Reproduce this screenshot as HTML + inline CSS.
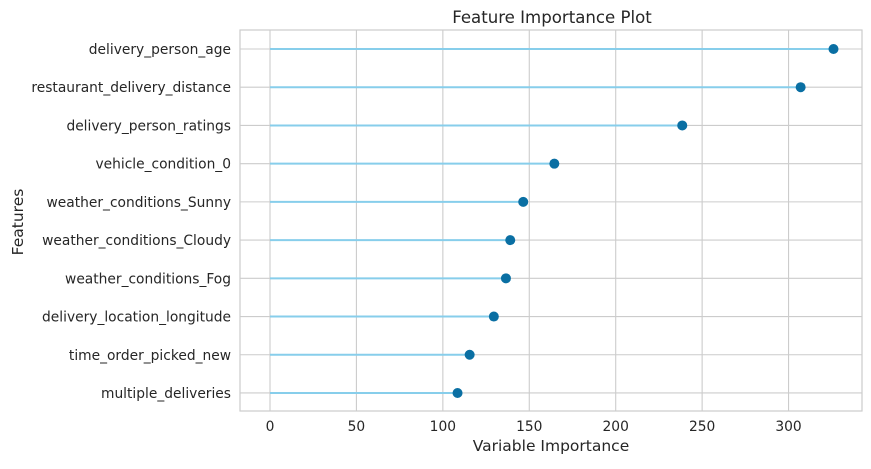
<!DOCTYPE html>
<html><head><meta charset="utf-8"><style>
body{margin:0;background:#fff;font-family:"Liberation Sans","DejaVu Sans",sans-serif;}
svg text{font-family:"DejaVu Sans","Liberation Sans",sans-serif;fill:#262626;}
</style></head><body>
<svg id="chart" width="871" height="464">
<rect x="240" y="30" width="622" height="381" fill="#fff" stroke="#cccccc" stroke-width="1.2"/>
<g id="grid"></g><g id="marks"></g><g id="labels"></g>
<text x="552" y="23" text-anchor="middle" font-size="16.6">Feature Importance Plot</text>
<text x="551" y="451" text-anchor="middle" font-size="15.5">Variable Importance</text>
<text x="23" y="222" text-anchor="middle" font-size="15.5" transform="rotate(-90 23 222)">Features</text>
</svg>
<script>
const features=["delivery_person_age","restaurant_delivery_distance","delivery_person_ratings","vehicle_condition_0","weather_conditions_Sunny","weather_conditions_Cloudy","weather_conditions_Fog","delivery_location_longitude","time_order_picked_new","multiple_deliveries"];
const importance=[326,307,238.5,164.5,146.5,139,136.5,129.5,115.5,108.5];
const xTicks=[0,50,100,150,200,250,300];
const NS="http://www.w3.org/2000/svg";
function sx(v){return 270+v*1.7285;}
function sy(i){return 49+i*38.22;}
function mk(tag,attrs,parent){const e=document.createElementNS(NS,tag);for(const k in attrs)e.setAttribute(k,attrs[k]);document.getElementById(parent).appendChild(e);return e;}
xTicks.forEach(t=>{
  const l=mk('line',{x1:sx(t),x2:sx(t),y1:30,y2:411,stroke:'#cccccc','stroke-width':1.1},'grid');
  
  
  const tx=mk('text',{x:sx(t),y:431,'text-anchor':'middle','font-size':13.8},'labels');
  tx.textContent=t;
  
  
});
features.forEach((f,i)=>{
  const g=mk('line',{x1:240,x2:862,y1:sy(i),y2:sy(i),stroke:'#cccccc','stroke-width':1.1},'grid');
  
  
  const tx=mk('text',{x:231,y:sy(i)+5,'text-anchor':'end','font-size':13.8},'labels');
  tx.textContent=f;
  
  
  const st=mk('line',{x1:sx(0),x2:sx(importance[i]),y1:sy(i),y2:sy(i),stroke:'#87ceeb','stroke-width':2},'marks');
  
  
  const c=mk('circle',{cx:sx(importance[i]),cy:sy(i),r:5,fill:'#0a6fa3'},'marks');
  
  
});
</script>
</body></html>
